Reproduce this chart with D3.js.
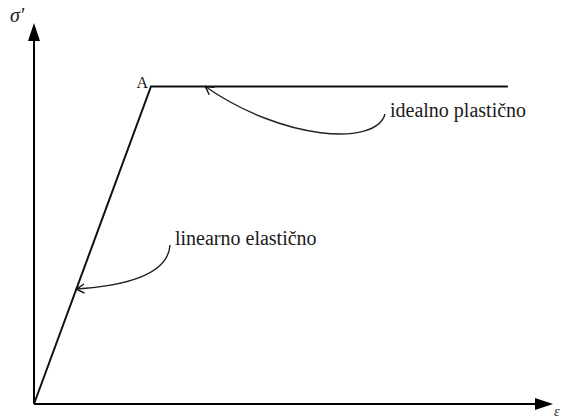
<!DOCTYPE html>
<html>
<head>
<meta charset="utf-8">
<script src="https://cdn.jsdelivr.net/npm/d3@7"></script>
<style>
  html, body { margin: 0; padding: 0; background: #fff; }
  svg { display: block; }
  text { font-family: "Liberation Serif", "Times New Roman", serif; fill: #1a1a1a; }
</style>
</head>
<body>
<svg id="chart" width="562" height="419"></svg>
<script>
// Idealised stress–strain law: linear elastic up to yield point A, then perfectly plastic.
const strain = [0, 0.2254, 0.913];
const stress = [0, 1, 1];
const yieldLabel = "A";
const axisLabels = { x: "ε", y: "σ'" };

// Annotations: text and the point on the law each one refers to.
const noteText = ["idealno plastično", "linearno elastično"];
const noteTargetStrain = [0.33, 0.0816];
const noteTargetStress = [1, 0.362];

const W = 562, H = 419;
const margin = { left: 34, right: 9, top: 23, bottom: 15 };

const svg = d3.select("#chart");
const x = d3.scaleLinear().domain([0, 1]).range([margin.left, W - margin.right]);
const y = d3.scaleLinear().domain([0, 1.2]).range([H - margin.bottom, margin.top]);

const defs = svg.append("defs");
defs.append("marker")
  .attr("id", "openHead")
  .attr("markerUnits", "userSpaceOnUse")
  .attr("viewBox", "-10 -6 12 12")
  .attr("refX", 0).attr("refY", 0)
  .attr("markerWidth", 12).attr("markerHeight", 12)
  .attr("orient", "auto")
  .append("path")
  .attr("d", "M-8,-4.5L0,0L-8,4.5")
  .attr("fill", "none")
  .attr("stroke", "#111")
  .attr("stroke-width", 1.4);

// Axes with solid arrowheads
const ox = x(0), oy = y(0), topY = y(1.2), rightX = x(1);
const headLen = 18, headHalf = 6;
svg.append("line")
  .attr("x1", ox).attr("y1", oy)
  .attr("x2", ox).attr("y2", topY + headLen - 2)
  .attr("stroke", "#000").attr("stroke-width", 2);
svg.append("path")
  .attr("d", `M${ox},${topY}L${ox - headHalf},${topY + headLen}L${ox + headHalf},${topY + headLen}Z`)
  .attr("fill", "#000");
svg.append("line")
  .attr("x1", ox).attr("y1", oy)
  .attr("x2", rightX - headLen + 2).attr("y2", oy)
  .attr("stroke", "#000").attr("stroke-width", 2);
svg.append("path")
  .attr("d", `M${rightX},${oy}L${rightX - headLen},${oy - headHalf}L${rightX - headLen},${oy + headHalf}Z`)
  .attr("fill", "#000");

svg.append("text")
  .attr("x", ox - 24).attr("y", topY - 1)
  .attr("font-size", 20).attr("font-style", "italic")
  .text(axisLabels.y);
svg.append("text")
  .attr("x", rightX + 1).attr("y", oy + 12)
  .attr("font-size", 14).attr("font-style", "italic")
  .text(axisLabels.x);

// Constitutive law
const law = strain.map((e, i) => [e, stress[i]]);
svg.append("path")
  .datum(law)
  .attr("fill", "none")
  .attr("stroke", "#111")
  .attr("stroke-width", 2)
  .attr("d", d3.line().x(d => x(d[0])).y(d => y(d[1])));

svg.append("text")
  .attr("x", x(strain[1]) - 3).attr("y", y(stress[1]) + 1)
  .attr("text-anchor", "end")
  .attr("font-size", 16)
  .text(yieldLabel);

// Annotation callouts (curved leaders with open arrowheads)
const notes = [
  { tx: 390, ty: 117, sx: 385, sy: 114, c1: [376, 147], c2: [282, 140] },
  { tx: 175, ty: 245, sx: 170, sy: 245, c1: [168, 276], c2: [122, 286] }
];
notes.forEach((n, i) => {
  const tx = x(noteTargetStrain[i]), ty = y(noteTargetStress[i]);
  const p = d3.path();
  p.moveTo(n.sx, n.sy);
  p.bezierCurveTo(n.c1[0], n.c1[1], n.c2[0], n.c2[1], tx, ty);
  svg.append("path")
    .attr("d", p.toString())
    .attr("fill", "none")
    .attr("stroke", "#222")
    .attr("stroke-width", 1.4)
    .attr("marker-end", "url(#openHead)");
  svg.append("text")
    .attr("x", n.tx).attr("y", n.ty)
    .attr("font-size", 20)
    .text(noteText[i]);
});
</script>
</body>
</html>
